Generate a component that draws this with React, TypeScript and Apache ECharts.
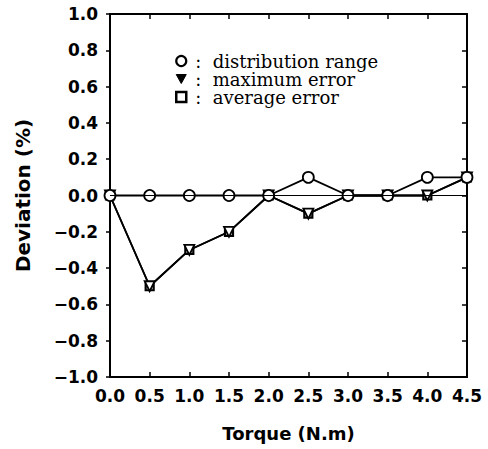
import React, { useEffect, useRef } from "react";
import * as echarts from "echarts";

const torque = [0, 0.5, 1.0, 1.5, 2.0, 2.5, 3.0, 3.5, 4.0, 4.5];
const distributionRange = [0, 0, 0, 0, 0, 0.1, 0, 0, 0.1, 0.1];
const maximumError = [0, -0.5, -0.3, -0.2, 0, -0.1, 0, 0, 0, 0.1];
const averageError = [0, -0.5, -0.3, -0.2, 0, -0.1, 0, 0, 0, 0.1];
const seriesNames = ["distribution range", "maximum error", "average error"];

const fmt = (v: number) => v.toFixed(1).replace("-", "\u2212");
const pair = (ys: number[]) => torque.map((x, i) => [x, ys[i]]);

export default function App() {
  const ref = useRef<HTMLDivElement>(null);
  useEffect(() => {
    if (!ref.current) return;
    const chart = echarts.init(ref.current, null, { renderer: "svg" });
    const labelFont = { fontFamily: "DejaVu Sans", fontSize: 17, fontWeight: "bold" as const, color: "#000" };
    const axisLine = { show: true, lineStyle: { color: "#000", width: 2 } };
    const hollow = { color: "#fff", borderColor: "#000", borderWidth: 1.8 };
    chart.setOption({
      animation: false,
      backgroundColor: "#fff",
      grid: { left: 110, right: 21, top: 14, bottom: 72 },
      legend: {
        orient: "vertical",
        left: 170,
        top: 47,
        itemGap: 0,
        itemWidth: 10,
        itemHeight: 10,
        selectedMode: false,
        formatter: (n: string) => ":  " + n,
        textStyle: { fontFamily: "DejaVu Serif", fontSize: 18, lineHeight: 18, color: "#000", padding: [0, 0, 0, 4] },
        data: [
          { name: seriesNames[0], icon: "circle", itemStyle: { color: "#fff", borderColor: "#000", borderWidth: 2.2 } },
          { name: seriesNames[1], icon: "path://M0,0 L10,0 L5,9 Z", itemStyle: { color: "#000", borderColor: "#000", borderWidth: 1 } },
          { name: seriesNames[2], icon: "rect", itemStyle: { color: "#fff", borderColor: "#000", borderWidth: 2.5 } },
        ],
      },
      xAxis: [
        {
          type: "value", position: "bottom", min: 0, max: 4.5, interval: 0.5,
          axisLine: { ...axisLine, onZero: false },
          axisTick: { show: true, inside: true, length: 5, lineStyle: { color: "#000", width: 1.5 } },
          axisLabel: { ...labelFont, margin: 10, formatter: fmt },
          splitLine: { show: false },
          name: "Torque (N.m)", nameLocation: "middle", nameGap: 47,
          nameTextStyle: { ...labelFont, fontSize: 18 },
        },
        {
          type: "value", position: "top", min: 0, max: 4.5, interval: 0.5,
          axisLine: { ...axisLine, onZero: false },
          axisTick: { show: true, inside: true, length: 5, lineStyle: { color: "#000", width: 1.5 } },
          axisLabel: { show: false },
          splitLine: { show: false },
        },
      ],
      yAxis: [
        {
          type: "value", position: "left", min: -1, max: 1, interval: 0.2,
          axisLine: { ...axisLine, onZero: false },
          axisTick: { show: true, inside: false, length: 4, lineStyle: { color: "#000", width: 1.5 } },
          axisLabel: { ...labelFont, margin: 12, formatter: fmt },
          splitLine: { show: false },
          name: "Deviation (%)", nameLocation: "middle", nameGap: 77,
          nameTextStyle: { ...labelFont, fontSize: 20 },
        },
        {
          type: "value", position: "right", min: -1, max: 1, interval: 0.2,
          axisLine: { ...axisLine, onZero: false },
          axisTick: { show: true, inside: true, length: 5, lineStyle: { color: "#000", width: 1.5 } },
          axisLabel: { show: false },
          splitLine: { show: false },
        },
      ],
      series: [
        {
          name: seriesNames[2], type: "line", data: pair(averageError),
          symbol: "rect", symbolSize: 8, itemStyle: { ...hollow, borderWidth: 2.2 },
          lineStyle: { color: "#000", width: 1.8 },
          markLine: {
            silent: true, symbol: "none", label: { show: false },
            lineStyle: { color: "#000", width: 1, type: "solid" },
            data: [{ yAxis: 0 }],
          },
        },
        {
          name: seriesNames[1], type: "line", data: pair(maximumError),
          symbol: "triangle", symbolRotate: 180, symbolSize: 10, itemStyle: hollow,
          lineStyle: { color: "#000", width: 1.8 },
        },
        {
          name: seriesNames[0], type: "line", data: pair(distributionRange),
          symbol: "circle", symbolSize: 11, itemStyle: hollow,
          lineStyle: { color: "#000", width: 1.8 },
        },
      ],
    });
    return () => chart.dispose();
  }, []);
  return <div ref={ref} style={{ width: 488, height: 449, position: "absolute", left: 0, top: 0 }} />;
}
